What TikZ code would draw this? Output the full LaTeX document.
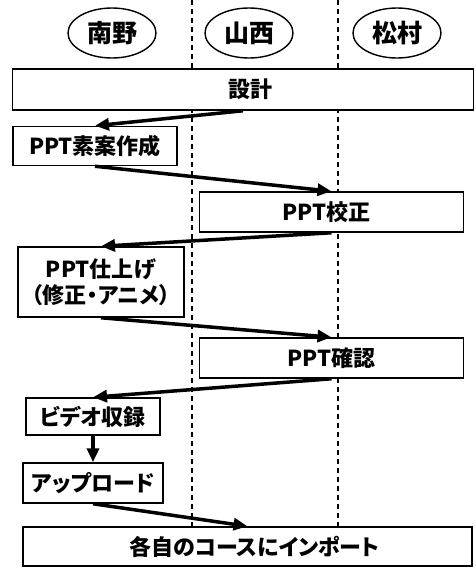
\documentclass[tikz,border=0pt]{standalone}
\usepackage{fontspec}
\newfontfamily\jp[RawFeature={+palt}]{Noto Sans CJK JP}
\usetikzlibrary{arrows.meta,shapes.geometric}
\tikzset{
  box/.style={draw, line width=1.5pt, fill=white, inner sep=0pt, align=center,
    font=\jp\bfseries\fontsize{22}{26}\selectfont},
  person/.style={draw, ellipse, line width=1.4pt, fill=white, inner sep=0pt,
    minimum width=88pt, minimum height=50pt, font=\jp\bfseries\fontsize{25}{28}\selectfont},
  flow/.style={line width=3.5pt, -{Triangle[length=14pt,width=12pt]}},
  lane/.style={line width=1.2pt, dash pattern=on 5pt off 4pt}
}
\begin{document}
\begin{tikzpicture}[x=1pt,y=-1pt]
\useasboundingbox[fill=white] (0,0) rectangle (476,571);
\coordinate (l1top) at (192,0);
\coordinate (l1bot) at (192,530);
\coordinate (l2top) at (338,0);
\coordinate (l2bot) at (338,530);
\draw[lane] (l1top) -- (l1bot);
\draw[lane] (l2top) -- (l2bot);

\node[person] (nanno) at (112,33) {南野};
\node[person] (yamanishi) at (249,33) {山西};
\node[person] (matsumura) at (397,33) {松村};

\node[box, minimum width=461pt, minimum height=41pt] (design) at (243,89.5) {\hspace*{14pt}設計};
\node[box, minimum width=164pt, minimum height=39pt] (draft) at (95,146) {PPT素案作成};
\node[box, minimum width=264pt, minimum height=40pt] (proof) at (331.5,212) {\hspace*{-10pt}PPT校正};
\node[box, minimum width=166pt, minimum height=70pt] (finish) at (101,282) {PPT仕上げ\\（修正・アニメ）};
\node[box, minimum width=264pt, minimum height=40pt] (check) at (331.5,358) {PPT確認};
\node[box, minimum width=134pt, minimum height=37pt] (video) at (93,416.5) {ビデオ収録};
\node[box, minimum width=140pt, minimum height=40pt] (upload) at (93,483) {アップロード};
\node[box, minimum width=449pt, minimum height=39pt] (import) at (247.5,546.5) {\hspace*{14pt}各自のコースにインポート};

\draw[flow] (design.south) -- (draft.north);
\draw[flow] (draft.south) -- (proof.north);
\draw[flow] (proof.south) -- (finish.north);
\draw[flow] (finish.south) -- (check.north);
\draw[flow] (check.south) -- (video.north);
\draw[flow] (video.south) -- (upload.north);
\draw[flow] (upload.south) -- (import.north);
\end{tikzpicture}
\end{document}
